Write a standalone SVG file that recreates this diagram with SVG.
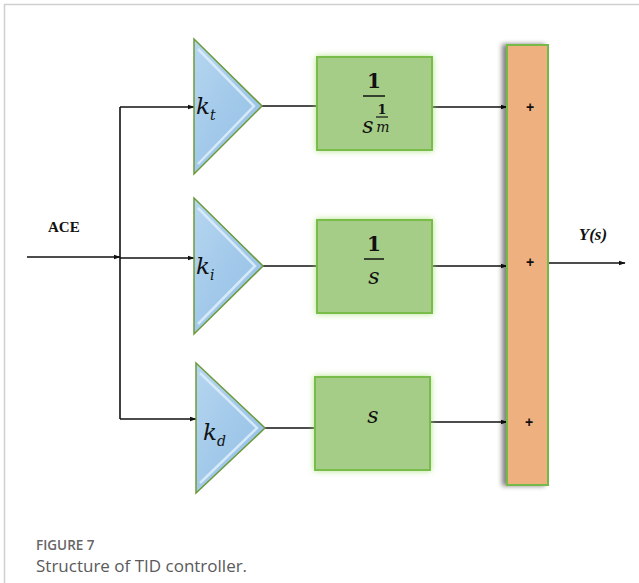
<svg xmlns="http://www.w3.org/2000/svg" width="639" height="583" viewBox="0 0 639 583">
  <defs>
    <linearGradient id="triFill" x1="0" y1="0" x2="1" y2="1">
      <stop offset="0" stop-color="#b6d6f0"/>
      <stop offset="0.5" stop-color="#a2c9ea"/>
      <stop offset="1" stop-color="#94c0e4"/>
    </linearGradient>
    <filter id="glow" x="-20%" y="-20%" width="140%" height="140%">
      <feGaussianBlur in="SourceAlpha" stdDeviation="3" result="b"/>
      <feFlood flood-color="#9fdc6a" flood-opacity="0.8"/>
      <feComposite in2="b" operator="in" result="g"/>
      <feMerge><feMergeNode in="g"/><feMergeNode in="SourceGraphic"/></feMerge>
    </filter>
    <filter id="shadow" x="-40%" y="-5%" width="160%" height="110%">
      <feGaussianBlur in="SourceAlpha" stdDeviation="2.5"/>
      <feOffset dx="-4" dy="0" result="o"/>
      <feComponentTransfer><feFuncA type="linear" slope="0.5"/></feComponentTransfer>
      <feMerge><feMergeNode/><feMergeNode in="SourceGraphic"/></feMerge>
    </filter>
    <marker id="arrow" viewBox="0 0 10 10" refX="9" refY="5" markerWidth="7" markerHeight="7" orient="auto" markerUnits="userSpaceOnUse">
      <path d="M0,1.5 L10,5 L0,8.5 Z" fill="#111"/>
    </marker>
  </defs>
  <style>
    .frame { stroke: #cfcfcf; stroke-width: 1.5; fill: none; }
    .tri { fill: url(#triFill); stroke: #6e9a3c; stroke-width: 1.5; }
    .bevel { fill: none; stroke: #dcecf9; stroke-width: 2.5; opacity: 0.9; }
    .box { fill: #a6cd87; stroke: #78bd4a; stroke-width: 2; }
    .sum { fill: #efb07f; stroke: #74b94a; stroke-width: 2; }
    .wire { stroke: #111; stroke-width: 1.6; fill: none; }
    .math { font-family: "DejaVu Serif", "Liberation Serif", serif; fill: #111; }
    .gain { font-size: 23px; font-style: italic; }
    .sub { font-size: 14px; font-style: italic; }
    .num { font-size: 20px; font-weight: bold; }
    .var { font-size: 22px; font-style: italic; }
    .plus { font-family: "Liberation Sans", sans-serif; font-size: 14px; font-weight: bold; fill: #111; }
    .lbl { font-family: "Liberation Serif", serif; font-size: 15px; font-weight: bold; fill: #111; }
    .caphead { font-family: "Open Sans", "Liberation Sans", sans-serif; font-size: 13.5px; font-weight: 600; fill: #666; }
    .captext { font-family: "Open Sans", "Liberation Sans", sans-serif; font-size: 17px; fill: #5a5a5a; }
  </style>

  <!-- page frame -->
  <path class="frame" d="M4.5,583 V4.5 H639"/>

  <!-- connectors -->
  <g id="connectors">
    <line class="wire" x1="27" y1="257" x2="120" y2="257" marker-end="url(#arrow)"/>
    <line class="wire" x1="120" y1="107" x2="120" y2="419"/>
    <line class="wire" x1="120" y1="107" x2="194" y2="107" marker-end="url(#arrow)"/>
    <line class="wire" x1="120" y1="258" x2="194" y2="258" marker-end="url(#arrow)"/>
    <line class="wire" x1="120" y1="419" x2="196" y2="419" marker-end="url(#arrow)"/>
    <line class="wire" x1="262" y1="106" x2="317" y2="106"/>
    <line class="wire" x1="263" y1="266" x2="317" y2="266"/>
    <line class="wire" x1="265" y1="428" x2="315" y2="428"/>
    <line class="wire" x1="432" y1="107" x2="507" y2="107" marker-end="url(#arrow)"/>
    <line class="wire" x1="432" y1="266" x2="507" y2="266" marker-end="url(#arrow)"/>
    <line class="wire" x1="430" y1="422" x2="507" y2="422" marker-end="url(#arrow)"/>
    <line class="wire" x1="548" y1="263" x2="625" y2="263" marker-end="url(#arrow)"/>
  </g>

  <!-- gain kt -->
  <g id="gain-kt">
    <polygon class="tri" points="194,39 262,106 194,174"/>
    <polyline class="bevel" points="198,49 254,106 198,164"/>
    <text class="math gain" x="196" y="114">k</text>
    <text class="math sub" x="210" y="120">t</text>
  </g>

  <!-- gain ki -->
  <g id="gain-ki">
    <polygon class="tri" points="194,198 263,266 194,334"/>
    <polyline class="bevel" points="198,208 255,266 198,324"/>
    <text class="math gain" x="196" y="274">k</text>
    <text class="math sub" x="210" y="280">i</text>
  </g>

  <!-- gain kd -->
  <g id="gain-kd">
    <polygon class="tri" points="196,363 265,428 196,493"/>
    <polyline class="bevel" points="200,373 257,428 200,483"/>
    <text class="math gain" x="203" y="440">k</text>
    <text class="math sub" x="217" y="446">d</text>
  </g>

  <!-- fractional integrator 1/s^(1/m) -->
  <g id="block-tilt">
    <rect class="box" x="317" y="57" width="115" height="93" filter="url(#glow)"/>
    <text class="math num" x="374" y="88" text-anchor="middle">1</text>
    <line x1="363" y1="96" x2="385" y2="96" stroke="#111" stroke-width="1.5"/>
    <text class="math var" x="368" y="133" text-anchor="middle">s</text>
    <text class="math" x="382" y="114" text-anchor="middle" font-size="13" font-weight="bold">1</text>
    <line x1="376" y1="117" x2="388" y2="117" stroke="#111" stroke-width="1.2"/>
    <text class="math" x="383" y="132" text-anchor="middle" font-size="14" font-style="italic">m</text>
  </g>

  <!-- integrator 1/s -->
  <g id="block-int">
    <rect class="box" x="317" y="220" width="115" height="93" filter="url(#glow)"/>
    <text class="math num" x="374" y="251" text-anchor="middle">1</text>
    <line x1="364" y1="259" x2="384" y2="259" stroke="#111" stroke-width="1.5"/>
    <text class="math var" x="374" y="284" text-anchor="middle">s</text>
  </g>

  <!-- derivative s -->
  <g id="block-der">
    <rect class="box" x="315" y="377" width="115" height="93" filter="url(#glow)"/>
    <text class="math var" x="373" y="423" text-anchor="middle">s</text>
  </g>

  <!-- summing bar -->
  <g id="summer">
    <rect class="sum" x="507" y="45" width="41" height="440" filter="url(#shadow)"/>
    <text class="plus" x="530" y="112" text-anchor="middle">+</text>
    <text class="plus" x="530" y="267" text-anchor="middle">+</text>
    <text class="plus" x="529" y="427" text-anchor="middle">+</text>
  </g>

  <!-- signal labels -->
  <text class="lbl" x="48" y="232">ACE</text>
  <text x="593" y="240" text-anchor="middle" font-family="Liberation Serif, serif" font-size="17" font-weight="bold" font-style="italic" fill="#111">Y(s)</text>

  <!-- caption -->
  <text class="caphead" x="36" y="550">FIGURE 7</text>
  <text class="captext" x="36" y="572">Structure of TID controller.</text>
</svg>
